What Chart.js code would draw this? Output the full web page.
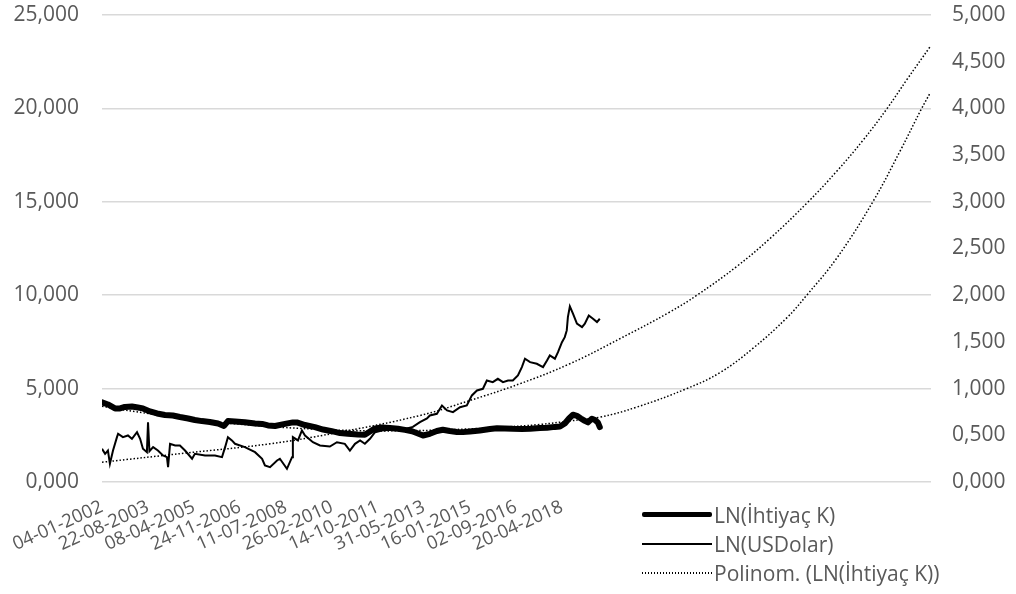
<!DOCTYPE html>
<html lang="tr">
<head>
<meta charset="utf-8">
<title>LN(İhtiyaç K) - LN(USDolar)</title>
<script src="https://cdn.jsdelivr.net/npm/chart.js@4.4.1/dist/chart.umd.min.js"></script>
<style>
  html, body { margin: 0; padding: 0; background: #fff; }
  #wrap { position: relative; width: 1016px; height: 594px; }
  #legend {
    position: absolute; left: 642px; top: 500px;
    font-family: "Open Sans", sans-serif; font-size: 21px; color: #595959;
  }
  .item { display: flex; align-items: center; height: 29px; white-space: nowrap; }
  .swatch { width: 70px; margin-right: 2px; }
  .sw-thick { height: 5px; background: #000; border-radius: 2px; }
  .sw-thin { height: 2px; background: #000; }
  .sw-dot { height: 2px; background: repeating-linear-gradient(to right, #000 0 1.5px, transparent 1.5px 3px); }
</style>
</head>
<body>
<div id="wrap">
  <canvas id="chart" width="1016" height="594"></canvas>
  <div id="legend">
    <div class="item"><span class="swatch sw-thick"></span>LN(İhtiyaç K)</div>
    <div class="item"><span class="swatch sw-thin"></span>LN(USDolar)</div>
    <div class="item"><span class="swatch sw-dot"></span>Polinom. (LN(İhtiyaç K))</div>
  </div>
</div>
<script>
// category labels shown on the x axis
const dateLabels = ['04-01-2002', '22-08-2003', '08-04-2005', '24-11-2006', '11-07-2008',
  '26-02-2010', '14-10-2011', '31-05-2013', '16-01-2015', '02-09-2016', '20-04-2018'];

// LN(İhtiyaç K), left axis (x = decimal year)
const kDates = [2002.01, 2002.22, 2002.47, 2002.65, 2002.82, 2003.07, 2003.28, 2003.46, 2003.71, 2003.96,
  2004.24, 2004.52, 2004.77, 2005.06, 2005.30, 2005.55, 2005.83, 2006.12, 2006.33, 2006.47,
  2006.72, 2007.07, 2007.43, 2007.68, 2007.89, 2008.14, 2008.49, 2008.77, 2008.91, 2009.20,
  2009.55, 2009.84, 2010.15, 2010.44, 2010.72, 2011.07, 2011.32, 2011.50, 2011.68, 2011.92,
  2012.21, 2012.49, 2012.74, 2012.99, 2013.20, 2013.38, 2013.62, 2013.87, 2014.08, 2014.33,
  2014.58, 2014.79, 2015.04, 2015.39, 2015.75, 2016.00, 2016.28, 2016.56, 2016.88, 2017.17,
  2017.52, 2017.77, 2018.05, 2018.23, 2018.40, 2018.55, 2018.69, 2018.83, 2018.97, 2019.11,
  2019.22, 2019.36, 2019.47, 2019.57, 2019.64];
const kValues = [4.27, 4.15, 3.94, 3.94, 4.02, 4.04, 3.99, 3.94, 3.78, 3.67,
  3.59, 3.56, 3.48, 3.40, 3.32, 3.26, 3.21, 3.13, 3.00, 3.26,
  3.24, 3.20, 3.13, 3.11, 3.03, 3.00, 3.11, 3.19, 3.19, 3.05,
  2.94, 2.81, 2.72, 2.62, 2.58, 2.54, 2.53, 2.70, 2.87, 2.92,
  2.89, 2.85, 2.79, 2.72, 2.60, 2.49, 2.58, 2.73, 2.80, 2.73,
  2.68, 2.67, 2.70, 2.76, 2.84, 2.88, 2.87, 2.85, 2.84, 2.85,
  2.89, 2.90, 2.95, 2.97, 3.13, 3.40, 3.60, 3.54, 3.40, 3.27,
  3.19, 3.39, 3.32, 3.19, 2.94];

// LN(USDolar), right axis
const uDates = [2002.01, 2002.12, 2002.22, 2002.29, 2002.40, 2002.54, 2002.58, 2002.75, 2002.93, 2003.07,
  2003.25, 2003.36, 2003.46, 2003.60, 2003.64, 2003.69, 2003.82, 2003.99, 2004.17, 2004.31,
  2004.35, 2004.42, 2004.60, 2004.77, 2004.95, 2005.20, 2005.30, 2005.66, 2006.01, 2006.26,
  2006.37, 2006.47, 2006.61, 2006.72, 2007.07, 2007.43, 2007.68, 2007.78, 2007.96, 2008.21,
  2008.31, 2008.56, 2008.74, 2008.77, 2008.95, 2009.09, 2009.20, 2009.48, 2009.73, 2010.08,
  2010.33, 2010.61, 2010.79, 2010.97, 2011.15, 2011.32, 2011.50, 2011.68, 2011.92, 2012.21,
  2012.56, 2012.81, 2013.02, 2013.27, 2013.52, 2013.62, 2013.87, 2014.05, 2014.23, 2014.44,
  2014.69, 2014.93, 2015.11, 2015.29, 2015.50, 2015.64, 2015.85, 2016.03, 2016.21, 2016.39,
  2016.56, 2016.74, 2016.88, 2016.99, 2017.17, 2017.41, 2017.63, 2017.77, 2017.87, 2018.05,
  2018.16, 2018.30, 2018.40, 2018.47, 2018.51, 2018.58, 2018.69, 2018.83, 2019.01, 2019.11,
  2019.25, 2019.40, 2019.54, 2019.64];
const uValues = [0.356, 0.302, 0.337, 0.195, 0.337, 0.480, 0.516, 0.480, 0.498, 0.463,
  0.533, 0.463, 0.356, 0.319, 0.640, 0.330, 0.373, 0.337, 0.284, 0.266,
  0.159, 0.409, 0.391, 0.391, 0.337, 0.249, 0.302, 0.284, 0.284, 0.266,
  0.373, 0.480, 0.445, 0.409, 0.373, 0.319, 0.249, 0.177, 0.159, 0.230,
  0.249, 0.141, 0.266, 0.480, 0.445, 0.552, 0.498, 0.426, 0.391, 0.380,
  0.426, 0.409, 0.337, 0.409, 0.445, 0.409, 0.463, 0.533, 0.552, 0.560,
  0.570, 0.573, 0.590, 0.640, 0.680, 0.712, 0.730, 0.819, 0.766, 0.748,
  0.801, 0.819, 0.927, 0.980, 0.998, 1.087, 1.069, 1.105, 1.069, 1.087,
  1.087, 1.141, 1.230, 1.320, 1.283, 1.266, 1.230, 1.301, 1.355, 1.320,
  1.390, 1.497, 1.551, 1.623, 1.765, 1.880, 1.802, 1.695, 1.658, 1.695,
  1.783, 1.748, 1.712, 1.748];

// polynomial trend of LN(İhtiyaç K), left axis, with forecast
const kTrendDates = [2002.01, 2003.71, 2005.48, 2007.25, 2009.02, 2010.79, 2012.56, 2014.33, 2016.10, 2017.52,
  2018.58, 2019.64, 2020.95, 2022.72, 2023.89, 2025.06, 2026.27, 2026.97, 2028.04, 2029.31,
  2030.27, 2031.04, 2031.33];
const kTrendValues = [4.05, 3.65, 3.30, 3.05, 2.87, 2.76, 2.74, 2.80, 2.93, 3.08,
  3.27, 3.47, 4.01, 5.00, 5.85, 7.15, 8.80, 10.00, 12.00, 15.00,
  17.70, 20.00, 20.80];

// polynomial trend of LN(USDolar), right axis, with forecast
const uTrendDates = [2002.01, 2004.98, 2007.96, 2010.19, 2013.27, 2015.04, 2016.81, 2018.58, 2020.35, 2022.12,
  2023.08, 2024.50, 2025.66, 2027.01, 2028.04, 2028.96, 2029.81, 2030.52, 2031.33];
const uTrendValues = [0.212, 0.310, 0.409, 0.520, 0.712, 0.873, 1.052, 1.266, 1.534, 1.820,
  2.000, 2.310, 2.605, 2.997, 3.330, 3.658, 3.997, 4.310, 4.657];

const leftTicks = [0, 5, 10, 15, 20, 25];
const rightTicks = [0, 0.5, 1, 1.5, 2, 2.5, 3, 3.5, 4, 4.5, 5];

function toYear(label) {
  const [d, m, y] = label.split('-').map(Number);
  const start = Date.UTC(y, 0, 1);
  return y + (Date.UTC(y, m - 1, d) - start) / (365 * 86400000);
}

function pairs(xs, ys) {
  return xs.map((x, i) => ({ x, y: ys[i] }));
}

function fmt(v) {
  return Number(v).toFixed(3).replace('.', ',');
}

function fixWidth(w) {
  return (s) => {
    s.width = w;
    s.paddingTop = 0;
    s.paddingBottom = 0;
  };
}

const labelPos = dateLabels.map(toYear);
const FONT = '"Open Sans", sans-serif';
const GREY = '#595959';

new Chart(document.getElementById('chart'), {
  type: 'line',
  data: {
    datasets: [
      {
        label: 'LN(İhtiyaç K)',
        data: pairs(kDates, kValues),
        yAxisID: 'yL',
        borderColor: '#000',
        borderWidth: 6,
        borderJoinStyle: 'round',
        borderCapStyle: 'round',
        pointRadius: 0,
        tension: 0,
      },
      {
        label: 'LN(USDolar)',
        data: pairs(uDates, uValues),
        yAxisID: 'yR',
        borderColor: '#000',
        borderWidth: 2,
        pointRadius: 0,
        tension: 0,
      },
      {
        label: 'Polinom. (LN(İhtiyaç K))',
        data: pairs(kTrendDates, kTrendValues),
        yAxisID: 'yL',
        borderColor: '#000',
        borderWidth: 1.5,
        borderDash: [1.5, 2],
        pointRadius: 0,
        tension: 0.4,
      },
      {
        label: 'Polinom. (LN(USDolar))',
        data: pairs(uTrendDates, uTrendValues),
        yAxisID: 'yR',
        borderColor: '#000',
        borderWidth: 1.5,
        borderDash: [1.5, 2],
        pointRadius: 0,
        tension: 0.4,
      },
    ],
  },
  options: {
    responsive: false,
    animation: false,
    events: [],
    layout: { padding: { top: 15, left: 0, right: 0, bottom: 0 } },
    plugins: { legend: { display: false }, tooltip: { enabled: false } },
    scales: {
      x: {
        type: 'linear',
        min: 2002.01,
        max: 2031.37,
        afterBuildTicks: (s) => { s.ticks = labelPos.map((v) => ({ value: v })); },
        afterFit: (s) => { s.height = 112; s.paddingLeft = 0; s.paddingRight = 0; },
        grid: { display: false },
        border: { display: false },
        ticks: {
          autoSkip: false,
          minRotation: 24,
          maxRotation: 24,
          padding: 6,
          color: GREY,
          font: { family: FONT, size: 18.5 },
          callback: (v, i) => dateLabels[i],
        },
      },
      yL: {
        position: 'left',
        min: 0,
        max: 25,
        afterBuildTicks: (s) => { s.ticks = leftTicks.map((v) => ({ value: v })); },
        afterFit: fixWidth(102),
        grid: { color: '#d9d9d9', lineWidth: 1.5, drawTicks: false },
        border: { display: false },
        ticks: { padding: 23, color: GREY, font: { family: FONT, size: 21 }, callback: (v) => fmt(v) },
      },
      yR: {
        position: 'right',
        min: 0,
        max: 5,
        afterBuildTicks: (s) => { s.ticks = rightTicks.map((v) => ({ value: v })); },
        afterFit: fixWidth(85),
        grid: { display: false, drawTicks: false },
        border: { display: false },
        ticks: { padding: 21, color: GREY, font: { family: FONT, size: 21 }, callback: (v) => fmt(v) },
      },
    },
  },
});
</script>
</body>
</html>
